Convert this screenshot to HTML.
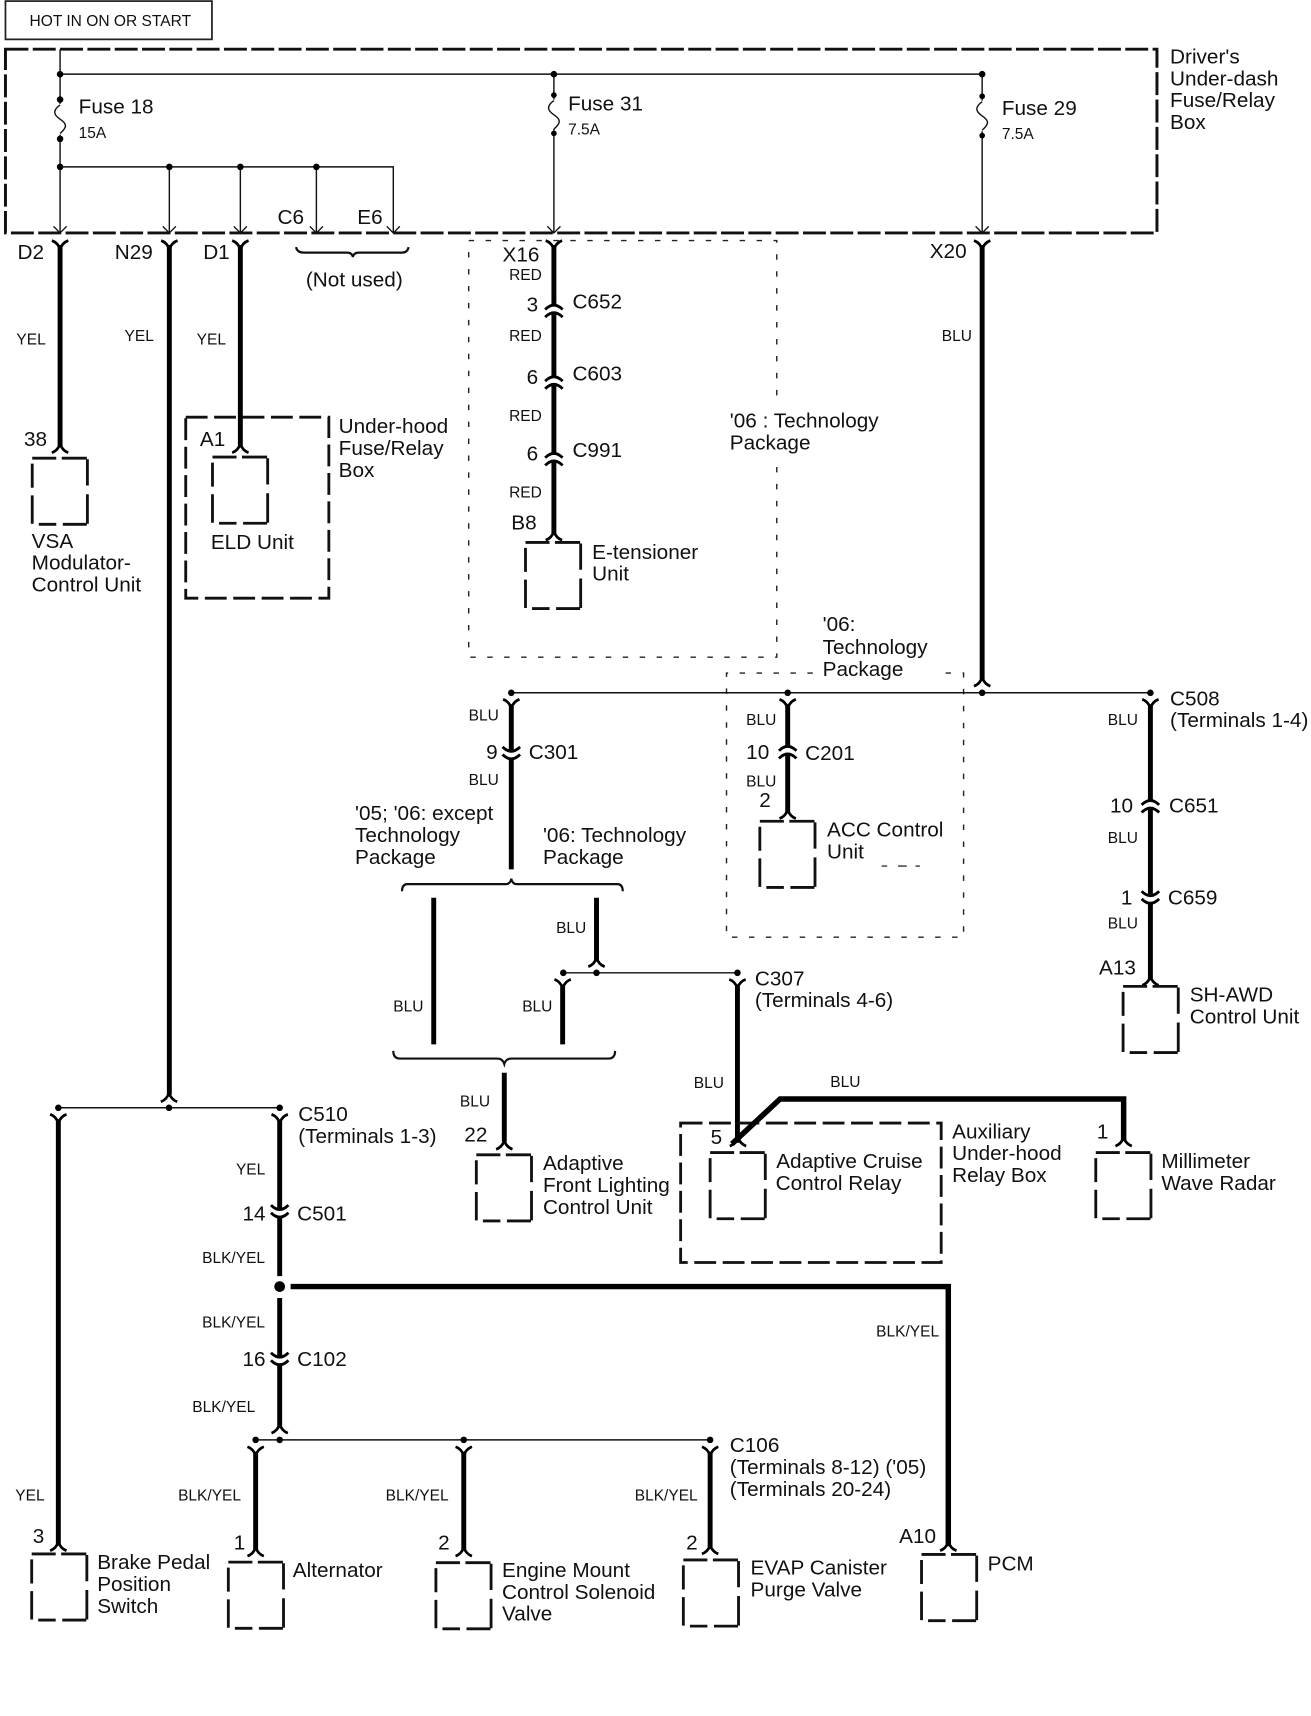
<!DOCTYPE html>
<html><head><meta charset="utf-8"><style>
html,body{margin:0;padding:0;background:#fff}
svg{display:block}
text{font-family:"Liberation Sans",sans-serif;font-size:19px;fill:#111}
.s{font-size:14.2px}
.t{stroke:#111;stroke-width:1.3;fill:none}
.w{stroke:#000;stroke-width:4.5;fill:none}
.x{stroke:#000;stroke-width:5;fill:none}
.d{stroke:#111;stroke-width:2.6;fill:none;stroke-dasharray:20 6}
.o{stroke:#222;stroke-width:1.3;fill:none;stroke-dasharray:5 10.5}
</style></head><body>
<svg width="1311" height="1716" viewBox="0 0 1200 1569.200" preserveAspectRatio="none" xmlns="http://www.w3.org/2000/svg">
<defs>
<path id="ydn" d="M-7.500,0Q-2,2 0,8Q2,2 7.500,0" fill="none" stroke="#000" stroke-width="2.500"/>
<path id="yup" d="M-7.500,0Q-2,-2 0,-8Q2,-2 7.500,0" fill="none" stroke="#000" stroke-width="2.500"/>
<path id="arr" d="M-6,-6L0,0L6,-6" fill="none" stroke="#111" stroke-width="1.200"/>
<g id="cu"><path d="M-8,3Q0,-5 8,3" fill="none" stroke="#000" stroke-width="2.600"/><path d="M-8,10Q0,2 8,10" fill="none" stroke="#000" stroke-width="2.600"/></g>
<g id="cd"><path d="M-8,-3Q0,5 8,-3" fill="none" stroke="#000" stroke-width="2.600"/><path d="M-8,4Q0,12 8,4" fill="none" stroke="#000" stroke-width="2.600"/></g>
<path id="box" d="M0,0H22M27,0H50M50.500,1V25M50.500,33V60M50,60.500H28M22,60.500H6M0,60V34M0,27V5" fill="none" stroke="#111" stroke-width="2.600"/>
<path id="fuse" d="M0,0C-7,5 -6,9 0,13C6,17 7,20 0,26" fill="none" stroke="#111" stroke-width="1.300"/>
</defs>

<rect x="5" y="1" width="189" height="35" fill="none" stroke="#222" stroke-width="1.600"/>
<text x="27" y="24" style="font-size:14.250px">HOT IN ON OR START</text>

<rect x="5" y="45" width="1054" height="168" fill="none" stroke="#111" stroke-width="2.700" stroke-dasharray="21 4"/>

<!-- thin top wiring -->
<path class="t" d="M55,45V213M55,67.800H899M507,67.800V213M899,67.800V213M55,152.600H360V213M155,152.600V213M220,152.600V213M289.600,152.600V213"/>
<g fill="#000">
<circle cx="55" cy="67.800" r="3"/><circle cx="55" cy="91" r="3"/><circle cx="55" cy="127" r="3"/><circle cx="55" cy="152.600" r="3"/>
<circle cx="155" cy="152.600" r="3"/><circle cx="220" cy="152.600" r="3"/><circle cx="289.600" cy="152.600" r="3"/>
<circle cx="507" cy="67.800" r="3"/><circle cx="899" cy="67.800" r="3"/>
<circle cx="507" cy="87" r="2.600"/><circle cx="507" cy="122" r="2.600"/><circle cx="899" cy="88" r="2.600"/><circle cx="899" cy="124" r="2.600"/>
</g>
<g fill="#fff" stroke="none"><rect x="49" y="95" width="12" height="28"/><rect x="501" y="91" width="12" height="27"/><rect x="893" y="92" width="12" height="28"/></g>
<use href="#fuse" x="55" y="96"/><use href="#fuse" x="507" y="92"/><use href="#fuse" x="899" y="93"/>
<use href="#arr" x="55" y="213"/><use href="#arr" x="155" y="213"/><use href="#arr" x="220" y="213"/><use href="#arr" x="289.600" y="213"/><use href="#arr" x="360" y="213"/><use href="#arr" x="507" y="213"/><use href="#arr" x="899" y="213"/>

<text x="72" y="104">Fuse 18</text><text x="72" y="126" class="s">15A</text>
<text x="520" y="101">Fuse 31</text><text x="520" y="123" class="s">7.5A</text>
<text x="917" y="105">Fuse 29</text><text x="917" y="127" class="s">7.5A</text>
<text x="254" y="205">C6</text><text x="327" y="205">E6</text>
<text x="1071" y="58">Driver's</text><text x="1071" y="78">Under-dash</text><text x="1071" y="98">Fuse/Relay</text><text x="1071" y="118">Box</text>

<path d="M271,226Q272,231 278,231H318Q322,231 323,235Q324,231 328,231H368Q373,231 374,226" fill="none" stroke="#111" stroke-width="2"/>
<text x="280" y="262">(Not used)</text>

<!-- top-left thick -->
<path class="w" d="M55,224V408M155,224V1001M220,224V408"/>
<use href="#ydn" x="55" y="220"/><use href="#ydn" x="155" y="220"/><use href="#ydn" x="220" y="220"/>
<use href="#yup" x="55" y="414"/><use href="#yup" x="220" y="414"/>
<text x="16" y="237">D2</text><text x="105" y="237">N29</text><text x="186" y="237">D1</text>
<text x="15" y="315" class="s">YEL</text><text x="114" y="312" class="s">YEL</text><text x="180" y="315" class="s">YEL</text>
<text x="22" y="408">38</text><use href="#box" x="29.500" y="419"/>
<text x="29" y="501">VSA</text><text x="29" y="521">Modulator-</text><text x="29" y="541">Control Unit</text>
<rect x="170" y="381.500" width="131" height="165.500" class="d"/>
<text x="183" y="408">A1</text><use href="#box" x="194.500" y="418"/><text x="193" y="502">ELD Unit</text>
<text x="310" y="396">Under-hood</text><text x="310" y="416">Fuse/Relay</text><text x="310" y="436">Box</text>

<!-- E-tensioner -->
<path class="o" d="M429,220H711V367M711,427V601H429V220"/>
<path class="w" d="M507,224V279M507,286V344.500M507,351.500V414.600M507,421.600V488"/>
<use href="#ydn" x="507" y="220"/><use href="#cu" x="507" y="280"/><use href="#cu" x="507" y="345.500"/><use href="#cu" x="507" y="415.600"/><use href="#yup" x="507" y="494"/>
<text x="460" y="239">X16</text><text x="466" y="256" class="s">RED</text>
<text x="482" y="285">3</text><text x="524" y="282">C652</text><text x="466" y="312" class="s">RED</text>
<text x="482" y="351">6</text><text x="524" y="348">C603</text><text x="466" y="385" class="s">RED</text>
<text x="482" y="421">6</text><text x="524" y="418">C991</text><text x="466" y="455" class="s">RED</text>
<text x="468" y="484">B8</text><use href="#box" x="481" y="496"/>
<text x="542" y="511">E-tensioner</text><text x="542" y="531">Unit</text>
<text x="668" y="391">'06 : Technology</text><text x="668" y="411">Package</text>

<!-- X20 -->
<path class="w" d="M899,224V622"/><use href="#ydn" x="899" y="220"/><text x="851" y="236">X20</text>
<text x="862" y="312" class="s">BLU</text>
<use href="#yup" x="899" y="627.500"/>
<path class="o" d="M744,615.500H665V857H882V615.500H862"/>
<text x="753" y="577">'06:</text><text x="753" y="598">Technology</text><text x="753" y="618">Package</text>
<path class="t" d="M468,633.500H1053"/>
<g fill="#000"><circle cx="468" cy="633.500" r="3"/><circle cx="721" cy="633.500" r="3"/><circle cx="899" cy="633.500" r="3"/><circle cx="1053" cy="633.500" r="3"/></g>
<use href="#ydn" x="468" y="639.500"/><use href="#ydn" x="721" y="639.500"/><use href="#ydn" x="1053" y="639.500"/>

<path class="w" d="M468,644V687M468,694V795"/><use href="#cd" x="468" y="686"/>
<text x="429" y="659" class="s">BLU</text><text x="445" y="694">9</text><text x="484" y="694">C301</text><text x="429" y="718" class="s">BLU</text>
<text x="325" y="750">'05; '06: except</text><text x="325" y="770">Technology</text><text x="325" y="790">Package</text>
<text x="497" y="770">'06: Technology</text><text x="497" y="790">Package</text>

<path class="w" d="M721,644V682.500M721,689.500V743"/><use href="#cu" x="721" y="683.500"/><use href="#yup" x="721" y="748.500"/>
<text x="683" y="663" class="s">BLU</text><text x="683" y="694">10</text><text x="737" y="695">C201</text><text x="683" y="719" class="s">BLU</text><text x="695" y="738">2</text>
<use href="#box" x="695.500" y="751"/><text x="757" y="765">ACC Control</text><text x="757" y="785">Unit</text>
<path d="M807,792H812M822,792H830M838,792H842" stroke="#333" stroke-width="1.300"/>

<path class="w" d="M1053,644V732M1053,739V819M1053,826V895"/><use href="#cu" x="1053" y="733"/><use href="#cd" x="1053" y="818"/><use href="#yup" x="1053" y="901"/>
<text x="1071" y="645">C508</text><text x="1071" y="665">(Terminals 1-4)</text><text x="1014" y="663" class="s">BLU</text>
<text x="1016" y="743">10</text><text x="1070" y="743">C651</text><text x="1014" y="771" class="s">BLU</text>
<text x="1026" y="827">1</text><text x="1069" y="827">C659</text><text x="1014" y="849" class="s">BLU</text>
<text x="1006" y="891">A13</text><use href="#box" x="1028" y="902"/>
<text x="1089" y="916">SH-AWD</text><text x="1089" y="936">Control Unit</text>

<!-- braces -->
<path d="M368,815Q368,808.500 373,808.500H463Q467,808.500 468,803.500Q469,808.500 473,808.500H565Q570,808.500 570,815" fill="none" stroke="#111" stroke-width="2"/>
<path class="w" d="M397,821V955M546,821V879M515,902V955M675,902V1045"/>
<use href="#yup" x="546" y="884"/>
<path class="t" d="M515.600,889.600H675"/>
<g fill="#000"><circle cx="515.600" cy="889.600" r="3"/><circle cx="546" cy="889.600" r="3"/><circle cx="675" cy="889.600" r="3"/></g>
<use href="#ydn" x="515" y="895.600"/><use href="#ydn" x="675" y="895.600"/>
<text x="509" y="853" class="s">BLU</text><text x="360" y="925" class="s">BLU</text><text x="478" y="925" class="s">BLU</text>
<text x="691" y="901">C307</text><text x="691" y="921">(Terminals 4-6)</text>
<path d="M360,961Q360,968 366,968H455Q460,968 461.600,973Q463,968 468,968H557Q563,968 563,961" fill="none" stroke="#111" stroke-width="2"/>
<path class="w" d="M461.600,981V1044"/><use href="#yup" x="461.600" y="1051"/>
<text x="421" y="1012" class="s">BLU</text><text x="425" y="1044">22</text><use href="#box" x="436" y="1056"/>
<text x="497" y="1070">Adaptive</text><text x="497" y="1090">Front Lighting</text><text x="497" y="1110">Control Unit</text>

<text x="635" y="995" class="s">BLU</text><text x="760" y="994" class="s">BLU</text>
<rect x="623" y="1027" width="238.500" height="127.500" class="d"/>
<path class="x" d="M670,1046L714,1005H1028.500V1043"/>
<use href="#yup" x="675.500" y="1048"/><use href="#yup" x="1028.500" y="1048"/>
<text x="650.500" y="1046">5</text><use href="#box" x="650" y="1054"/>
<text x="710.500" y="1068">Adaptive Cruise</text><text x="710" y="1088">Control Relay</text>
<text x="871.500" y="1041">Auxiliary</text><text x="871.500" y="1061">Under-hood</text><text x="871.500" y="1081">Relay Box</text>
<text x="1004" y="1041">1</text><use href="#box" x="1003" y="1054"/>
<text x="1063" y="1068">Millimeter</text><text x="1063" y="1088">Wave Radar</text>

<!-- C510 -->
<use href="#yup" x="154.700" y="1007.500"/>
<path class="t" d="M53.400,1013H256"/>
<g fill="#000"><circle cx="53.400" cy="1013" r="3"/><circle cx="154.700" cy="1013" r="3"/><circle cx="256" cy="1013" r="3"/></g>
<use href="#ydn" x="53.400" y="1019"/><use href="#ydn" x="256" y="1019"/>
<path class="w" d="M53.400,1024V1412M256,1024V1106M256,1113V1167M256,1187V1241M256,1248V1305"/>
<use href="#cd" x="256" y="1105"/><use href="#cd" x="256" y="1240"/>
<circle cx="256" cy="1176.500" r="4.900"/>
<path class="x" d="M266,1176.500H868V1414"/>
<use href="#yup" x="53.400" y="1418"/><use href="#yup" x="868" y="1418"/>
<text x="273" y="1025">C510</text><text x="273" y="1045">(Terminals 1-3)</text><text x="216" y="1074" class="s">YEL</text>
<text x="222" y="1116">14</text><text x="272" y="1116">C501</text>
<text x="185" y="1155" class="s">BLK/YEL</text><text x="185" y="1214" class="s">BLK/YEL</text><text x="802" y="1222" class="s">BLK/YEL</text>
<text x="222" y="1249">16</text><text x="272" y="1249">C102</text><text x="176" y="1291" class="s">BLK/YEL</text>

<use href="#yup" x="256" y="1310.500"/>
<path class="t" d="M234,1316.700H650"/>
<g fill="#000"><circle cx="234" cy="1316.700" r="3"/><circle cx="256" cy="1316.700" r="3"/><circle cx="424.500" cy="1316.700" r="3"/><circle cx="650" cy="1316.700" r="3"/></g>
<use href="#ydn" x="234" y="1323"/><use href="#ydn" x="424.500" y="1323"/><use href="#ydn" x="650" y="1323"/>
<path class="w" d="M234,1328V1417M424.500,1328V1417M650,1328V1415"/>
<use href="#yup" x="234" y="1423"/><use href="#yup" x="424.500" y="1423"/><use href="#yup" x="650" y="1421"/>
<text x="668" y="1328">C106</text><text x="668" y="1348">(Terminals 8-12) ('05)</text><text x="668" y="1368">(Terminals 20-24)</text>
<text x="14" y="1372" class="s">YEL</text><text x="163" y="1372" class="s">BLK/YEL</text><text x="353" y="1372" class="s">BLK/YEL</text><text x="581" y="1372" class="s">BLK/YEL</text>
<text x="30" y="1411">3</text><use href="#box" x="29" y="1421"/>
<text x="89" y="1435">Brake Pedal</text><text x="89" y="1455">Position</text><text x="89" y="1475">Switch</text>
<text x="214" y="1417">1</text><use href="#box" x="209" y="1428.500"/><text x="268" y="1442">Alternator</text>
<text x="401" y="1417">2</text><use href="#box" x="399" y="1429"/>
<text x="459.500" y="1442">Engine Mount</text><text x="459.500" y="1462">Control Solenoid</text><text x="459.500" y="1482">Valve</text>
<text x="628" y="1417">2</text><use href="#box" x="625.500" y="1426.500"/>
<text x="687" y="1440">EVAP Canister</text><text x="687" y="1460">Purge Valve</text>
<text x="823" y="1411">A10</text><use href="#box" x="843.500" y="1421.500"/><text x="904" y="1436">PCM</text>
</svg>
</body></html>
